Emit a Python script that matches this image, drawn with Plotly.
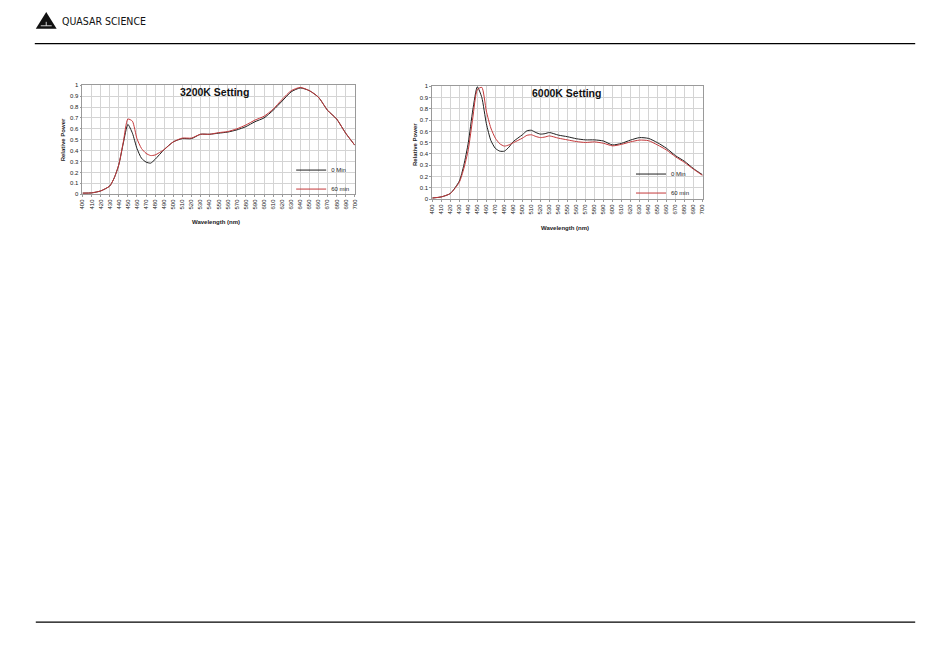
import plotly.graph_objects as go

# ---------------- data ----------------
wl_3200 = [400, 410, 420, 430, 435, 440, 445, 450, 455, 460, 465, 470, 475, 480, 490, 500,
           510, 520, 530, 540, 550, 560, 570, 580, 590, 600, 610, 620, 630, 640, 650, 660,
           670, 680, 690, 700]
p3200_0min = [0.01, 0.012, 0.03, 0.075, 0.15, 0.27, 0.47, 0.64, 0.56, 0.42, 0.33, 0.295,
              0.285, 0.32, 0.41, 0.48, 0.51, 0.51, 0.55, 0.55, 0.56, 0.57, 0.59, 0.62, 0.665,
              0.70, 0.77, 0.855, 0.94, 0.975, 0.95, 0.89, 0.77, 0.69, 0.56, 0.45]
p3200_60min = [0.01, 0.012, 0.03, 0.075, 0.15, 0.27, 0.48, 0.69, 0.67, 0.51, 0.42, 0.375,
               0.355, 0.36, 0.41, 0.48, 0.515, 0.515, 0.55, 0.55, 0.565, 0.575, 0.60, 0.635,
               0.68, 0.715, 0.78, 0.87, 0.95, 0.98, 0.95, 0.89, 0.77, 0.69, 0.56, 0.45]

wl_6000 = [400, 410, 420, 430, 435, 440, 445, 450, 455, 460, 465, 470, 475, 480, 485, 490,
           500, 505, 510, 515, 520, 525, 530, 540, 550, 560, 570, 580, 590, 600, 610, 620,
           630, 640, 650, 660, 670, 680, 690, 700]
p6000_0min = [0.01, 0.02, 0.05, 0.16, 0.30, 0.50, 0.79, 0.995, 0.90, 0.67, 0.52, 0.45, 0.425,
              0.425, 0.46, 0.51, 0.57, 0.605, 0.61, 0.59, 0.576, 0.58, 0.59, 0.567, 0.553,
              0.535, 0.525, 0.525, 0.515, 0.48, 0.494, 0.523, 0.545, 0.538, 0.50, 0.45,
              0.385, 0.335, 0.27, 0.216]
p6000_60min = [0.01, 0.02, 0.05, 0.15, 0.27, 0.44, 0.72, 0.97, 0.99, 0.78, 0.63, 0.54, 0.49,
               0.47, 0.48, 0.50, 0.54, 0.565, 0.57, 0.555, 0.545, 0.55, 0.56, 0.54, 0.525,
               0.51, 0.502, 0.507, 0.495, 0.472, 0.485, 0.507, 0.523, 0.518, 0.48, 0.435,
               0.375, 0.325, 0.265, 0.21]

series_names = ["0 Min", "60 min"]
chart_titles = ["3200K Setting", "6000K Setting"]
x_tick_vals = list(range(400, 701, 10))
y_tick_vals = [round(i * 0.1, 1) for i in range(11)]
y_tick_text = ["0"] + [f"{v:g}" for v in y_tick_vals[1:-1]] + ["1"]

# ---------------- layout helpers ----------------
W, H = 950, 646
def px(x): return x / W
def py(y): return 1 - y / H

BLACK = "#1f1f1f"
RED = "#c4393b"
FONT = "Liberation Sans, Arial, sans-serif"

fig = go.Figure()

fig.add_trace(go.Scatter(x=wl_3200, y=p3200_0min, name=series_names[0], mode="lines",
                         line=dict(color=BLACK, width=1, shape="spline", smoothing=0.6),
                         xaxis="x", yaxis="y", legend="legend"))
fig.add_trace(go.Scatter(x=wl_3200, y=p3200_60min, name=series_names[1], mode="lines",
                         line=dict(color=RED, width=1, shape="spline", smoothing=0.6),
                         xaxis="x", yaxis="y", legend="legend"))
fig.add_trace(go.Scatter(x=wl_6000, y=p6000_0min, name=series_names[0], mode="lines",
                         line=dict(color=BLACK, width=1, shape="spline", smoothing=0.6),
                         xaxis="x2", yaxis="y2", legend="legend2"))
fig.add_trace(go.Scatter(x=wl_6000, y=p6000_60min, name=series_names[1], mode="lines",
                         line=dict(color=RED, width=1, shape="spline", smoothing=0.6),
                         xaxis="x2", yaxis="y2", legend="legend2"))

def xaxis(dom, anchor):
    return dict(domain=dom, anchor=anchor, range=[400, 700], tickvals=x_tick_vals,
                ticktext=[str(v) for v in x_tick_vals], tickangle=-90,
                tickfont=dict(size=6, family=FONT, color="#222"),
                showgrid=True, gridcolor="#d4d4d4", gridwidth=0.6,
                showline=True, linecolor="#9a9a9a", linewidth=0.8, mirror=True,
                ticks="outside", ticklen=2, tickcolor="#9a9a9a", zeroline=False,
                fixedrange=True)

def yaxis(dom, anchor):
    return dict(domain=dom, anchor=anchor, range=[0, 1], tickvals=y_tick_vals,
                ticktext=y_tick_text,
                tickfont=dict(size=6, family=FONT, color="#222"),
                showgrid=True, gridcolor="#d4d4d4", gridwidth=0.6,
                showline=True, linecolor="#9a9a9a", linewidth=0.8, mirror=True,
                ticks="outside", ticklen=2, tickcolor="#9a9a9a", zeroline=False,
                fixedrange=True)

fig.update_layout(
    width=W, height=H, autosize=False,
    margin=dict(l=0, r=0, t=0, b=0, pad=0),
    paper_bgcolor="white", plot_bgcolor="white",
    font=dict(family=FONT, color="#222"),
    xaxis=xaxis([px(80), px(354)], "y"),
    yaxis=yaxis([py(193), py(83)], "x"),
    xaxis2=xaxis([px(432), px(704)], "y2"),
    yaxis2=yaxis([py(198), py(84)], "x2"),
    legend=dict(x=px(290), y=py(154), xanchor="left", yanchor="top",
                bgcolor="rgba(0,0,0,0)", font=dict(size=6, family=FONT),
                tracegroupgap=0, itemwidth=30),
    legend2=dict(x=px(632), y=py(158), xanchor="left", yanchor="top",
                 bgcolor="rgba(0,0,0,0)", font=dict(size=6, family=FONT),
                 tracegroupgap=0, itemwidth=30),
    showlegend=True,
)

annotations = [
    dict(text=f"<b>{chart_titles[0]}</b>", x=px(213), y=py(90), font=dict(size=10.5, family=FONT, color="#111")),
    dict(text=f"<b>{chart_titles[1]}</b>", x=px(567), y=py(91), font=dict(size=10.5, family=FONT, color="#111")),
    dict(text="<b>Relative Power</b>", x=px(60), y=py(138), textangle=-90, font=dict(size=6, family=FONT, color="#222")),
    dict(text="<b>Relative Power</b>", x=px(414), y=py(143), textangle=-90, font=dict(size=6, family=FONT, color="#222")),
    dict(text="<b>Wavelength (nm)</b>", x=px(214), y=py(221), font=dict(size=6, family=FONT, color="#222")),
    dict(text="<b>Wavelength (nm)</b>", x=px(566), y=py(227), font=dict(size=6, family=FONT, color="#222")),
    dict(text="QUASAR SCIENCE", x=px(57), y=py(18), xanchor="left",
         font=dict(size=10.5, family="DejaVu Sans Condensed, Liberation Sans Narrow, sans-serif", color="#111")),
]
for a in annotations:
    a.setdefault("xanchor", "center")
    a.update(xref="paper", yref="paper", showarrow=False, yanchor="middle")
fig.update_layout(annotations=annotations)

shapes = [
    # header / footer rules
    dict(type="line", x0=px(32), x1=px(918), y0=py(41), y1=py(41), line=dict(color="black", width=1.3)),
    dict(type="line", x0=px(33), x1=px(918), y0=py(625), y1=py(625), line=dict(color="black", width=1.3)),
    # logo triangle
    dict(type="path", path=f"M {px(33)},{py(26)} L {px(43.5)},{py(9)} L {px(54)},{py(26)} Z",
         fillcolor="#111", line=dict(width=0)),
    dict(type="line", x0=px(38), x1=px(49), y0=py(23), y1=py(23), line=dict(color="white", width=0.8)),
    dict(type="line", x0=px(43.5), x1=px(43.5), y0=py(19), y1=py(23), line=dict(color="white", width=0.8)),
]
for s in shapes:
    s.update(xref="paper", yref="paper")
fig.update_layout(shapes=shapes)

fig.write_html("out.html", config={"displayModeBar": False},
               post_script="document.body.style.margin='0';document.body.style.padding='0';"
                           "document.body.style.overflow='hidden';")
